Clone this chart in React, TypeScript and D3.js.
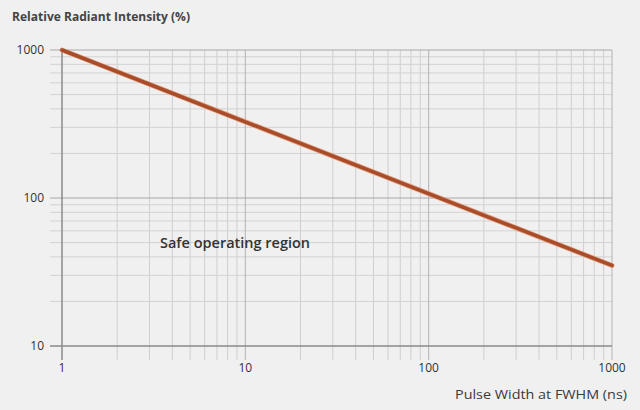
import React from "react";
import * as d3 from "d3";

const pulseWidthNs = [1, 1000];
const relIntensity = [1000, 35];
const xTickValues = [1, 10, 100, 1000];
const yTickValues = [10, 100, 1000];
const xTickLabels = ["1", "10", "100", "1000"];
const yTickLabels = ["10", "100", "1000"];
const yTitle = "Relative Radiant Intensity (%)";
const xTitle = "Pulse Width at FWHM (ns)";
const regionLabel = "Safe operating region";

const W = 640;
const H = 410;
const FONT = "'Open Sans', 'Noto Sans', sans-serif";

function minorTicks(lo: number, hi: number): number[] {
  const out: number[] = [];
  for (let d = lo; d < hi; d *= 10) {
    for (let k = 2; k <= 9; k++) out.push(d * k);
  }
  return out;
}

export default function App() {
  const x = d3.scaleLog().domain([1, 1000]).range([62, 612]);
  const y = d3.scaleLog().domain([10, 1000]).range([346, 50]);
  const data = pulseWidthNs.map((p, i) => ({ p, v: relIntensity[i] }));
  const line = d3
    .line<{ p: number; v: number }>()
    .x((d) => x(d.p))
    .y((d) => y(d.v));
  const xMinor = minorTicks(1, 1000);
  const yMinor = minorTicks(10, 1000);

  return (
    <svg
      width={W}
      height={H}
      style={{ position: "absolute", left: 0, top: 0 }}
      fontFamily={FONT}
    >
      <rect x={0} y={0} width={W} height={H} fill="#f0f0f0" />
      {/* minor grid */}
      {xMinor.map((v) => (
        <line
          key={"xm" + v}
          x1={x(v)}
          x2={x(v)}
          y1={y(1000)}
          y2={y(10) + 14}
          stroke="#cfcfcf"
          strokeWidth={1}
        />
      ))}
      {yMinor.map((v) => (
        <line
          key={"ym" + v}
          x1={x(1) - 12}
          x2={x(1000)}
          y1={y(v)}
          y2={y(v)}
          stroke="#d2d2d2"
          strokeWidth={1}
        />
      ))}
      {/* major grid */}
      {xTickValues.slice(1).map((v) => (
        <line
          key={"xM" + v}
          x1={x(v)}
          x2={x(v)}
          y1={y(1000)}
          y2={y(10) + 14}
          stroke="#b4b4b4"
          strokeWidth={1}
        />
      ))}
      {yTickValues.slice(1).map((v) => (
        <line
          key={"yM" + v}
          x1={x(1) - 12}
          x2={x(1000)}
          y1={y(v)}
          y2={y(v)}
          stroke="#a8a8a8"
          strokeWidth={1}
        />
      ))}
      {/* axes */}
      <line x1={x(1)} x2={x(1)} y1={y(1000)} y2={y(10) + 14} stroke="#8a8a8a" strokeWidth={1.5} />
      <line x1={x(1) - 12} x2={x(1000)} y1={y(10)} y2={y(10)} stroke="#8a8a8a" strokeWidth={1.5} />
      {/* tick labels */}
      {yTickValues.map((v, i) => (
        <text
          key={"yl" + v}
          x={44}
          y={y(v) + 4}
          textAnchor="end"
          fontSize={12}
          fill="#333"
        >
          {yTickLabels[i]}
        </text>
      ))}
      {xTickValues.map((v, i) => (
        <text
          key={"xl" + v}
          x={x(v)}
          y={372}
          textAnchor="middle"
          fontSize={12}
          fill="#333"
        >
          {xTickLabels[i]}
        </text>
      ))}
      {/* titles */}
      <text x={12} y={21} fontSize={12} fontWeight="bold" fill="#444" textLength={178} lengthAdjust="spacingAndGlyphs">
        {yTitle}
      </text>
      <text x={455} y={399} fontSize={12} fill="#3a3a3a" textLength={172} lengthAdjust="spacingAndGlyphs">
        {xTitle}
      </text>
      <text x={160} y={248} fontSize={15} fontWeight={600} fill="#333" textLength={150} lengthAdjust="spacingAndGlyphs">
        {regionLabel}
      </text>
      {/* limit line */}
      <path d={line(data) || ""} fill="none" stroke="#e0a080" strokeWidth={5} strokeLinecap="round" />
      <path d={line(data) || ""} fill="none" stroke="#a84c2a" strokeWidth={3.5} strokeLinecap="round" />
    </svg>
  );
}
